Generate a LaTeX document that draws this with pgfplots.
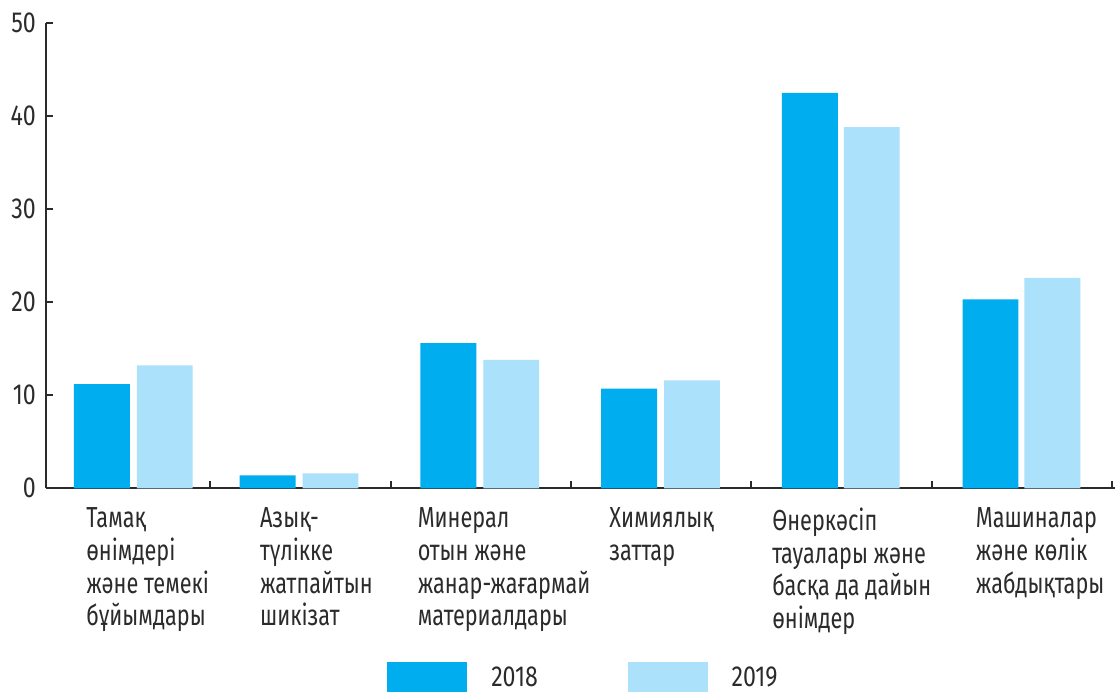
\documentclass[border=0pt]{standalone}
\usepackage{fontspec}
\setmainfont{Fira Sans}[FakeStretch=0.8]
\newfontfamily\labfont{Fira Sans}[FakeStretch=0.75]
\usepackage{pgfplots}
\pgfplotsset{compat=1.18}
\definecolor{cA}{HTML}{00AEEF}
\definecolor{cB}{HTML}{ABE1FA}
\definecolor{tg}{HTML}{2B2B2B}
\begin{document}
\begin{tikzpicture}
\begin{axis}[
  scale only axis,
  width=535.5pt, height=233pt,
  xmin=46, xmax=1117, ymin=0, ymax=50,
  clip=false,
  axis x line=bottom, axis y line=left,
  axis line style={-, draw=tg, line width=1pt},
  every tick/.style={draw=tg, line width=1pt},
  tick align=inside,
  xtick={210,392,572,752,933,1114},
  xticklabels={},
  major tick length=3.5pt,
  ytick={0,10,20,30,40,50},
  /pgf/number format/assume math mode=true,
  yticklabel style={font=\fontsize{14.5}{16}\selectfont, text=tg, xshift=-1.5pt},
  legend style={at={(axis cs:388,-21.9)}, anchor=south west, draw=none, fill=none,
     inner sep=0pt, outer sep=0pt, font=\fontsize{14.5}{16}\selectfont, text=tg,
     legend columns=2,
     /tikz/every even column/.append style={column sep=45pt},
     nodes={inner sep=0pt, text depth=0pt}},
  legend cell align=left,
  legend image code/.code={\fill[#1] (0pt,-7.5pt) rectangle (40pt,7.5pt);},
]
\addplot[ybar, bar width=56, bar shift=0pt, fill=cA, draw=none] coordinates {
 (102,11.2) (268,1.4) (449,15.6) (630,10.7) (811,42.5) (992,20.3)};
\addplot[ybar, bar width=56, bar shift=0pt, fill=cB, draw=none] coordinates {
 (165,13.2) (331,1.6) (512,13.8) (693,11.6) (873,38.8) (1054,22.6)};
\legend{\hspace{12pt}2018,\hspace{12pt}2019}
\path (axis cs:0,52.47) rectangle (axis cs:1119,-21.9);
\begin{scope}[every node/.style={anchor=north west, inner sep=0pt, align=left, text=tg, font=\labfont\fontsize{14.5}{16.4}\selectfont}]
\node at (axis cs:86,-2.04) {Тамақ\\өнімдері\\және темекі\\бұйымдары};
\node at (axis cs:260,-2.04) {Азық-\\түлікке\\жатпайтын\\шикізат};
\node at (axis cs:418,-2.04) {Минерал\\отын және\\жанар-жағармай\\материалдары};
\node at (axis cs:610,-2.04) {Химиялық\\заттар};
\node at (axis cs:773,-2.04) {Өнеркәсіп\\тауалары және\\басқа да дайын\\өнімдер};
\node at (axis cs:977,-2.04) {Машиналар\\және көлік\\жабдықтары};
\end{scope}
\end{axis}
\end{tikzpicture}
\end{document}
